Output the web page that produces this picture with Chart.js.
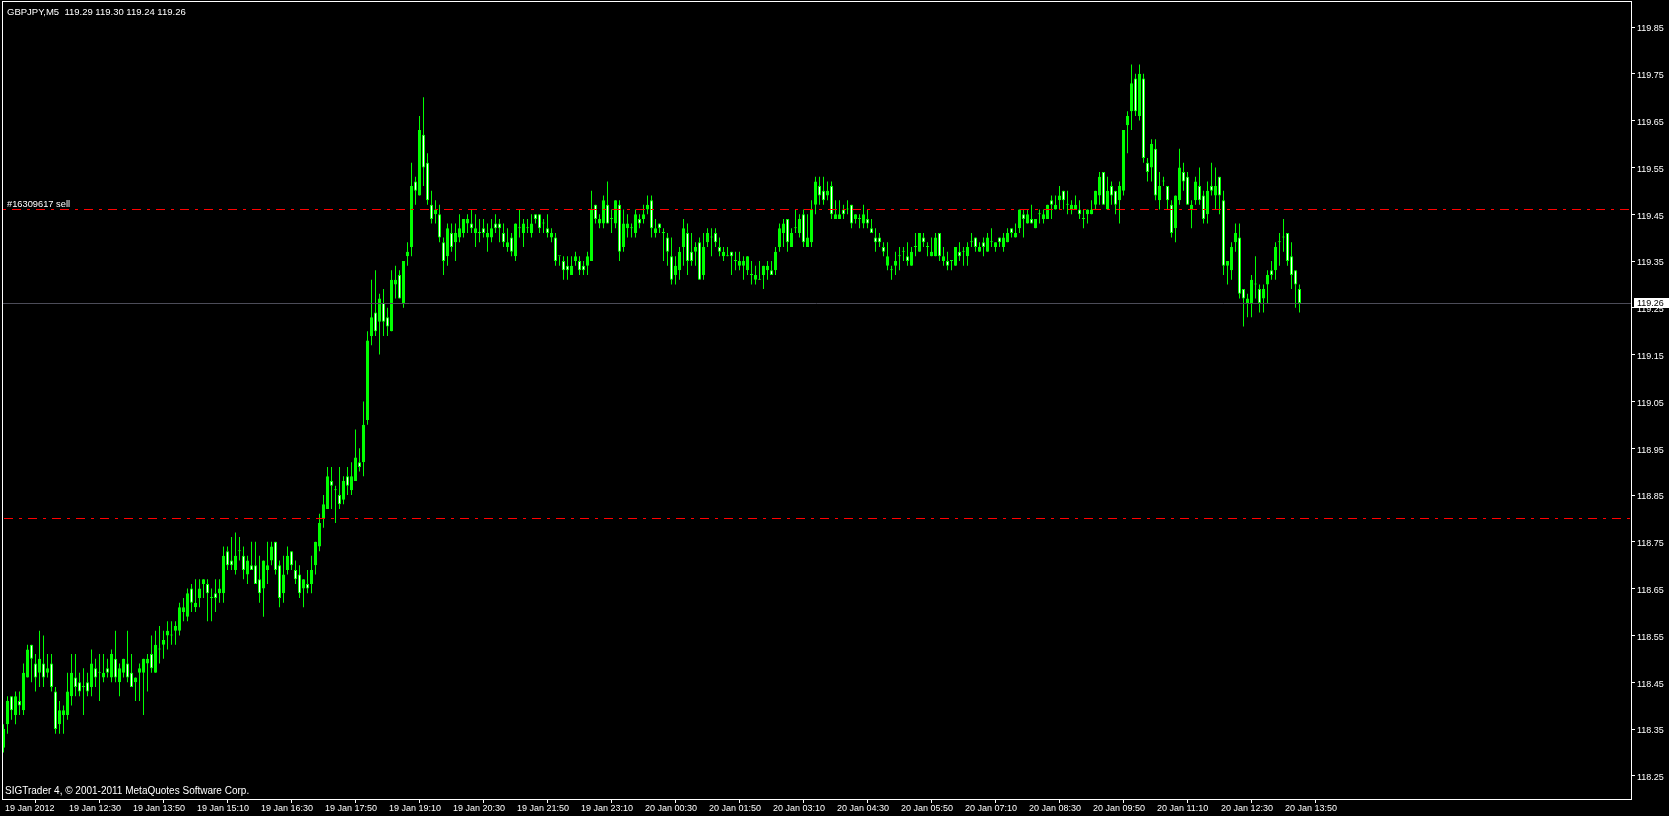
<!DOCTYPE html>
<html lang="en">
<head>
<meta charset="UTF-8">
<title>GBPJPY,M5</title>
<script src="https://cdn.jsdelivr.net/npm/chart.js"></script>
<style>
  html, body { margin:0; padding:0; background:#000; overflow:hidden; }
  #wrap { width:1669px; height:816px; }
</style>
</head>
<body>
<div id="wrap"><canvas id="chart" width="1669" height="816"></canvas></div>
<script>
// GBPJPY M5 bars, 19 Jan 11:10 .. 20 Jan 14:10
const symbol = 'GBPJPY,M5';
const opens = [
  118.31,118.36,118.42,118.38,118.41,118.39,118.46,118.53,118.49,118.47,
  118.49,118.47,118.49,118.43,118.36,118.38,118.38,118.42,118.46,118.45,
  118.44,118.45,118.44,118.48,118.47,118.46,118.48,118.46,118.50,118.45,
  118.47,118.49,118.47,118.45,118.47,118.47,118.49,118.51,118.47,118.52,
  118.53,118.55,118.55,118.56,118.56,118.60,118.59,118.65,118.61,118.63,
  118.66,118.66,118.63,118.64,118.64,118.64,118.73,118.71,118.69,118.73,
  118.72,118.68,118.70,118.70,118.67,118.65,118.69,118.71,118.75,118.70,
  118.64,118.69,118.73,118.69,118.68,118.65,118.66,118.66,118.70,118.74,
  118.80,118.82,118.88,118.86,118.85,118.84,118.89,118.86,118.88,118.92,
  118.92,119.01,119.19,119.24,119.22,119.26,119.23,119.20,119.30,119.32,
  119.26,119.36,119.38,119.52,119.49,119.62,119.56,119.47,119.45,119.45,
  119.39,119.36,119.41,119.39,119.40,119.41,119.43,119.43,119.41,119.41,
  119.42,119.40,119.40,119.43,119.43,119.41,119.38,119.40,119.36,119.42,
  119.41,119.42,119.41,119.45,119.45,119.43,119.42,119.40,119.40,119.36,
  119.35,119.34,119.32,119.35,119.35,119.34,119.34,119.35,119.47,119.43,
  119.43,119.47,119.44,119.43,119.47,119.38,119.42,119.42,119.41,119.44,
  119.44,119.46,119.48,119.41,119.43,119.41,119.40,119.36,119.32,119.33,
  119.38,119.41,119.37,119.37,119.39,119.32,119.39,119.40,119.41,119.38,
  119.36,119.36,119.37,119.35,119.34,119.34,119.33,119.32,119.31,119.31,
  119.32,119.33,119.33,119.33,119.38,119.41,119.44,119.38,119.42,119.41,
  119.45,119.38,119.39,119.47,119.51,119.50,119.49,119.51,119.44,119.44,
  119.46,119.46,119.47,119.44,119.44,119.43,119.44,119.42,119.40,119.40,
  119.38,119.34,119.33,119.34,119.36,119.37,119.36,119.34,119.38,119.37,
  119.40,119.38,119.36,119.36,119.41,119.35,119.35,119.35,119.34,119.37,
  119.37,119.36,119.39,119.40,119.37,119.39,119.37,119.39,119.38,119.40,
  119.38,119.39,119.42,119.40,119.42,119.45,119.43,119.44,119.42,119.45,
  119.44,119.44,119.48,119.46,119.48,119.50,119.47,119.46,119.46,119.46,
  119.44,119.45,119.45,119.47,119.49,119.54,119.46,119.51,119.50,119.48,
  119.50,119.64,119.67,119.74,119.66,119.74,119.56,119.55,119.59,119.48,
  119.52,119.51,119.47,119.42,119.48,119.54,119.53,119.46,119.48,119.51,
  119.49,119.45,119.51,119.49,119.53,119.48,119.34,119.33,119.39,119.40,
  119.29,119.26,119.26,119.30,119.29,119.27,119.30,119.33,119.33,119.39,
  119.40,119.41,119.36,119.33,119.29
];
const highs = [
  118.36,118.42,118.42,118.43,118.43,118.49,118.53,118.53,118.51,118.56,
  118.55,118.51,118.51,118.44,118.41,118.40,118.47,118.51,118.51,118.47,
  118.48,118.47,118.52,118.50,118.51,118.51,118.50,118.52,118.56,118.49,
  118.50,118.56,118.51,118.46,118.49,118.50,118.51,118.55,118.56,118.57,
  118.56,118.58,118.58,118.58,118.62,118.63,118.65,118.66,118.67,118.67,
  118.67,118.67,118.65,118.67,118.67,118.74,118.74,118.76,118.77,118.76,
  118.74,118.72,118.75,118.75,118.72,118.71,118.75,118.75,118.75,118.71,
  118.72,118.74,118.73,118.71,118.70,118.67,118.69,118.72,118.75,118.81,
  118.85,118.91,118.91,118.87,118.91,118.89,118.91,118.92,118.99,118.95,
  119.05,119.20,119.31,119.33,119.28,119.29,119.25,119.33,119.34,119.33,
  119.35,119.39,119.56,119.53,119.66,119.70,119.58,119.50,119.48,119.47,
  119.40,119.43,119.43,119.43,119.45,119.44,119.45,119.46,119.45,119.44,
  119.44,119.43,119.44,119.45,119.44,119.43,119.42,119.41,119.43,119.46,
  119.44,119.44,119.45,119.45,119.45,119.44,119.45,119.42,119.41,119.36,
  119.36,119.36,119.36,119.37,119.36,119.35,119.37,119.50,119.47,119.45,
  119.49,119.52,119.46,119.48,119.48,119.46,119.45,119.43,119.46,119.45,
  119.47,119.49,119.49,119.44,119.43,119.42,119.41,119.40,119.36,119.38,
  119.44,119.43,119.41,119.39,119.40,119.41,119.42,119.42,119.42,119.40,
  119.38,119.38,119.37,119.37,119.37,119.36,119.36,119.35,119.34,119.35,
  119.34,119.35,119.35,119.38,119.43,119.44,119.44,119.42,119.46,119.45,
  119.46,119.45,119.48,119.53,119.53,119.53,119.52,119.52,119.48,119.48,
  119.47,119.48,119.47,119.45,119.45,119.47,119.46,119.44,119.42,119.41,
  119.39,119.39,119.34,119.37,119.38,119.38,119.39,119.38,119.41,119.41,
  119.41,119.39,119.40,119.41,119.41,119.38,119.37,119.35,119.38,119.39,
  119.38,119.39,119.41,119.40,119.39,119.40,119.41,119.42,119.39,119.40,
  119.41,119.42,119.42,119.43,119.46,119.46,119.46,119.47,119.44,119.46,
  119.46,119.47,119.49,119.49,119.51,119.50,119.50,119.48,119.49,119.48,
  119.46,119.46,119.48,119.50,119.54,119.54,119.53,119.52,119.50,119.52,
  119.63,119.67,119.77,119.75,119.77,119.75,119.57,119.61,119.61,119.54,
  119.53,119.51,119.48,119.49,119.59,119.56,119.54,119.48,119.53,119.55,
  119.50,119.52,119.56,119.55,119.53,119.50,119.35,119.39,119.43,119.43,
  119.29,119.28,119.32,119.36,119.30,119.30,119.33,119.35,119.39,119.41,
  119.44,119.41,119.39,119.33,119.30
];
const lows = [
  118.30,118.34,118.37,118.36,118.38,118.38,118.46,118.45,118.43,118.44,
  118.44,118.46,118.43,118.34,118.34,118.34,118.37,118.40,118.42,118.42,
  118.38,118.42,118.42,118.44,118.41,118.45,118.46,118.45,118.45,118.42,
  118.46,118.45,118.44,118.41,118.41,118.38,118.43,118.47,118.47,118.49,
  118.50,118.52,118.53,118.53,118.55,118.58,118.58,118.60,118.60,118.61,
  118.63,118.58,118.58,118.60,118.62,118.62,118.69,118.69,118.68,118.71,
  118.67,118.66,118.69,118.66,118.62,118.59,118.66,118.70,118.68,118.61,
  118.62,118.68,118.69,118.66,118.63,118.61,118.64,118.64,118.68,118.73,
  118.78,118.82,118.82,118.79,118.82,118.83,118.85,118.85,118.88,118.90,
  118.89,119.00,119.17,119.19,119.15,119.19,119.19,119.20,119.27,119.27,
  119.25,119.34,119.36,119.47,119.49,119.51,119.47,119.43,119.43,119.39,
  119.32,119.34,119.37,119.35,119.39,119.40,119.41,119.41,119.38,119.39,
  119.40,119.37,119.39,119.41,119.39,119.38,119.37,119.36,119.35,119.40,
  119.38,119.41,119.40,119.43,119.41,119.41,119.40,119.39,119.34,119.34,
  119.31,119.31,119.32,119.34,119.32,119.32,119.32,119.35,119.43,119.42,
  119.42,119.43,119.41,119.42,119.35,119.37,119.40,119.40,119.40,119.42,
  119.43,119.45,119.40,119.40,119.41,119.35,119.34,119.30,119.30,119.31,
  119.34,119.32,119.34,119.34,119.31,119.31,119.38,119.36,119.38,119.36,
  119.35,119.36,119.32,119.33,119.33,119.31,119.32,119.30,119.30,119.31,
  119.29,119.31,119.32,119.32,119.37,119.38,119.37,119.38,119.41,119.40,
  119.38,119.38,119.38,119.45,119.47,119.47,119.48,119.44,119.44,119.44,
  119.44,119.45,119.42,119.43,119.42,119.42,119.42,119.41,119.37,119.38,
  119.36,119.33,119.31,119.32,119.33,119.35,119.34,119.34,119.36,119.37,
  119.38,119.36,119.36,119.36,119.35,119.34,119.33,119.33,119.34,119.35,
  119.34,119.34,119.38,119.37,119.37,119.36,119.37,119.38,119.37,119.38,
  119.37,119.39,119.40,119.40,119.41,119.40,119.43,119.43,119.42,119.43,
  119.43,119.44,119.44,119.46,119.46,119.46,119.45,119.45,119.46,119.44,
  119.42,119.43,119.45,119.46,119.47,119.47,119.46,119.47,119.45,119.43,
  119.49,119.58,119.63,119.66,119.65,119.56,119.52,119.52,119.48,119.46,
  119.51,119.46,119.40,119.39,119.47,119.50,119.47,119.42,119.47,119.47,
  119.43,119.43,119.49,119.46,119.45,119.32,119.30,119.31,119.37,119.27,
  119.21,119.23,119.23,119.27,119.24,119.24,119.26,119.31,119.31,119.34,
  119.37,119.34,119.29,119.25,119.24
];
const closes = [
  118.35,118.41,118.39,118.42,118.40,118.47,118.52,118.50,118.46,118.50,
  118.46,118.48,118.44,118.35,118.39,118.39,118.43,118.47,118.44,118.43,
  118.44,118.43,118.49,118.46,118.47,118.47,118.47,118.51,118.46,118.48,
  118.50,118.46,118.44,118.46,118.48,118.50,118.50,118.48,118.53,118.52,
  118.54,118.56,118.55,118.57,118.61,118.61,118.64,118.62,118.62,118.65,
  118.67,118.64,118.63,118.63,118.65,118.72,118.70,118.70,118.72,118.73,
  118.69,118.71,118.69,118.66,118.64,118.71,118.70,118.74,118.69,118.63,
  118.68,118.72,118.70,118.67,118.64,118.67,118.65,118.69,118.75,118.79,
  118.83,118.89,118.87,118.86,118.83,118.88,118.87,118.89,118.93,118.91,
  119.00,119.18,119.23,119.20,119.27,119.22,119.21,119.31,119.31,119.27,
  119.35,119.37,119.51,119.50,119.63,119.55,119.48,119.44,119.46,119.40,
  119.35,119.42,119.38,119.41,119.42,119.44,119.44,119.42,119.42,119.41,
  119.41,119.41,119.42,119.42,119.42,119.39,119.39,119.37,119.43,119.42,
  119.43,119.42,119.43,119.44,119.42,119.43,119.41,119.41,119.35,119.36,
  119.33,119.33,119.34,119.36,119.33,119.33,119.36,119.46,119.44,119.44,
  119.48,119.43,119.44,119.48,119.37,119.43,119.43,119.42,119.45,119.43,
  119.45,119.47,119.42,119.42,119.42,119.41,119.37,119.31,119.34,119.37,
  119.42,119.35,119.35,119.38,119.31,119.38,119.41,119.40,119.39,119.37,
  119.37,119.36,119.36,119.35,119.35,119.35,119.36,119.32,119.32,119.31,
  119.34,119.34,119.32,119.37,119.42,119.43,119.39,119.41,119.42,119.44,
  119.39,119.40,119.46,119.52,119.49,119.48,119.50,119.45,119.45,119.45,
  119.45,119.46,119.43,119.45,119.44,119.45,119.43,119.41,119.39,119.39,
  119.37,119.36,119.33,119.35,119.36,119.37,119.35,119.37,119.38,119.41,
  119.39,119.38,119.37,119.40,119.36,119.36,119.34,119.35,119.38,119.36,
  119.37,119.38,119.39,119.38,119.38,119.38,119.40,119.39,119.39,119.39,
  119.40,119.41,119.41,119.41,119.46,119.44,119.45,119.43,119.44,119.45,
  119.45,119.47,119.47,119.47,119.49,119.48,119.47,119.47,119.47,119.45,
  119.44,119.46,119.46,119.50,119.53,119.47,119.50,119.49,119.47,119.51,
  119.63,119.66,119.73,119.67,119.75,119.57,119.54,119.60,119.49,119.51,
  119.52,119.48,119.41,119.49,119.55,119.52,119.47,119.47,119.52,119.48,
  119.44,119.50,119.50,119.51,119.49,119.34,119.35,119.38,119.41,119.28,
  119.27,119.27,119.31,119.30,119.26,119.29,119.32,119.32,119.38,119.39,
  119.40,119.35,119.32,119.30,119.26
];

// one time label every 16 bars (80 min)
const timeLabels = [
  '19 Jan 2012','19 Jan 12:30','19 Jan 13:50','19 Jan 15:10','19 Jan 16:30',
  '19 Jan 17:50','19 Jan 19:10','19 Jan 20:30','19 Jan 21:50','19 Jan 23:10',
  '20 Jan 00:30','20 Jan 01:50','20 Jan 03:10','20 Jan 04:30','20 Jan 05:50',
  '20 Jan 07:10','20 Jan 08:30','20 Jan 09:50','20 Jan 11:10','20 Jan 12:30',
  '20 Jan 13:50'
];
const labelStep = 16;
const priceTicks = [119.85,119.75,119.65,119.55,119.45,119.35,119.25,119.15,119.05,
                    118.95,118.85,118.75,118.65,118.55,118.45,118.35,118.25];

const orderPrice = 119.46;
const orderText = '#16309617 sell';
const stopPrice = 118.80;
const copyright = 'SIGTrader 4, \u00a9 2001-2011 MetaQuotes Software Corp.';

const last = closes.length - 1;
const bidPrice = closes[last];

const LIME = '#00ff00';
const FONT = '"Liberation Sans", Arial, sans-serif';

const bodies = opens.map((o, i) => ({ x: i, y: [o, closes[i]] }));
const wicks = lows.map((l, i) => ({ x: i, y: [l, highs[i]] }));
const bodyFill = opens.map((o, i) => closes[i] >= o ? LIME : '#ffffff');

// MT4-ish overlay: trade lines, bid line, frame, texts
const mt4 = {
  id: 'mt4',
  beforeDraw(chart) {
    const ctx = chart.ctx;
    ctx.save();
    ctx.fillStyle = '#000';
    ctx.fillRect(0, 0, chart.width, chart.height);
    ctx.restore();
  },
  afterDatasetsDraw(chart) {
    const { ctx, chartArea: a, scales: { y } } = chart;
    const hline = (price, color, dash, x0) => {
      const py = Math.round(y.getPixelForValue(price) - 0.5) + 0.5;
      ctx.save();
      ctx.strokeStyle = color;
      ctx.lineWidth = 1;
      ctx.setLineDash(dash);
      ctx.beginPath();
      ctx.moveTo(x0, py);
      ctx.lineTo(a.right, py);
      ctx.stroke();
      ctx.restore();
    };
    hline(bidPrice, '#4c4c58', [], a.left);
    hline(orderPrice, '#ff0000', [3, 6, 9, 6], 3);
    hline(stopPrice, '#ff0000', [9, 6, 3, 6], 4);

    ctx.save();
    ctx.fillStyle = '#ffffff';
    ctx.textBaseline = 'alphabetic';
    ctx.textAlign = 'left';
    const oy = Math.round(y.getPixelForValue(orderPrice));
    ctx.font = '9.3px ' + FONT;
    ctx.fillText(orderText, 7, oy - 3);
    ctx.font = '9.5px ' + FONT;
    ctx.fillText(symbol + '  ' + [opens[last], highs[last], lows[last], closes[last]]
      .map(v => v.toFixed(2)).join(' '), 7, 15);
    ctx.font = '10px ' + FONT;
    ctx.fillText(copyright, 5, 794);
    ctx.restore();
  },
  afterDraw(chart) {
    const { ctx, chartArea: a, scales: { y } } = chart;
    ctx.save();
    ctx.strokeStyle = '#ffffff';
    ctx.lineWidth = 1;
    ctx.strokeRect(a.left + 0.5, a.top - 0.5, a.right - a.left, a.bottom - a.top + 1);
    // bid price box on the price scale
    const by = Math.round(y.getPixelForValue(bidPrice));
    ctx.fillStyle = '#ffffff';
    ctx.fillRect(a.right + 3, by - 5, 35, 10);
    ctx.fillStyle = '#000000';
    ctx.font = '9px ' + FONT;
    ctx.textBaseline = 'middle';
    ctx.fillText(bidPrice.toFixed(2), a.right + 6, by + 0.5);
    ctx.restore();
  }
};

Chart.defaults.font.family = FONT;
Chart.defaults.font.size = 9;
Chart.defaults.color = '#ffffff';

new Chart(document.getElementById('chart'), {
  type: 'bar',
  data: {
    datasets: [
      {
        label: 'body',
        data: bodies,
        order: 0,
        grouped: false,
        barThickness: 3,
        minBarLength: 1,
        backgroundColor: bodyFill,
        borderColor: LIME,
        borderWidth: 1,
        borderSkipped: false,
        inflateAmount: 0
      },
      {
        label: 'wick',
        data: wicks,
        order: 1,
        grouped: false,
        barThickness: 1,
        backgroundColor: LIME,
        borderWidth: 0,
        inflateAmount: 0
      }
    ]
  },
  options: {
    responsive: false,
    animation: false,
    devicePixelRatio: 1,
    layout: { padding: { left: 2, top: 2, right: 0, bottom: 0 } },
    plugins: { legend: { display: false }, tooltip: { enabled: false }, title: { display: false } },
    scales: {
      x: {
        type: 'linear',
        offset: false,
        min: -0.375,
        max: 406.875,
        afterFit: s => { s.height = 17; s.paddingLeft = 0; s.paddingRight = 0; },
        afterBuildTicks: s => { s.ticks = timeLabels.map((t, k) => ({ value: k * labelStep })); },
        grid: { drawOnChartArea: false, drawTicks: true, tickLength: 4, color: '#ffffff' },
        border: { display: false },
        ticks: {
          autoSkip: false,
          maxRotation: 0,
          minRotation: 0,
          align: 'start',
          labelOffset: 1.5,
          padding: 0,
          color: '#ffffff',
          font: { size: 9 },
          callback: v => timeLabels[Math.round(v / labelStep)]
        }
      },
      y: {
        position: 'right',
        beginAtZero: false,
        min: 118.200428,
        max: 119.903419,
        afterFit: s => { s.width = 38; s.paddingTop = 0; s.paddingBottom = 0; },
        afterBuildTicks: s => { s.ticks = priceTicks.map(v => ({ value: v })); },
        grid: { drawOnChartArea: false, drawTicks: true, tickLength: 4, color: '#ffffff' },
        border: { display: false },
        ticks: {
          autoSkip: false,
          padding: 2,
          labelOffset: 2,
          color: '#ffffff',
          font: { size: 9 },
          callback: v => v.toFixed(2)
        }
      }
    }
  },
  plugins: [mt4]
});
</script>
</body>
</html>
